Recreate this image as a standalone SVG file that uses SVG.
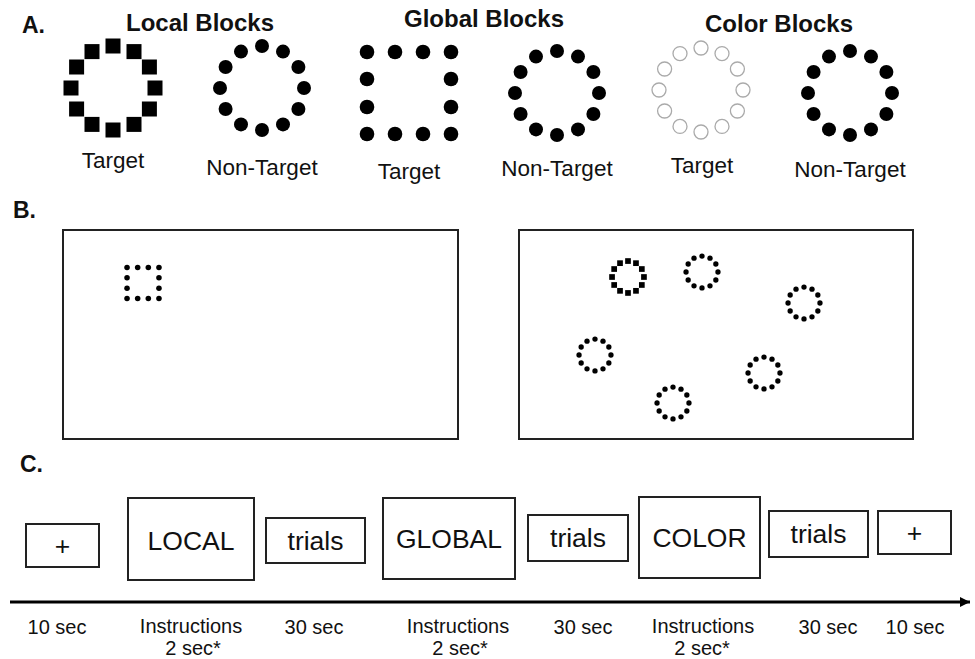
<svg xmlns="http://www.w3.org/2000/svg" xmlns:xlink="http://www.w3.org/1999/xlink" width="975" height="659" viewBox="0 0 975 659">
<style>
text{font-family:"Liberation Sans",Arial,sans-serif;fill:#111}
.lbl{font-size:23px;font-weight:bold}
.hd{font-size:24px;font-weight:bold;text-anchor:middle}
.cap{font-size:22.5px;text-anchor:middle}
.bx{fill:#fff;stroke:#222;stroke-width:2}
.bt{font-size:26.5px;text-anchor:middle}
.tl{font-size:20px;text-anchor:middle}
.dot{fill:#000}
.open{fill:none;stroke:#aaa;stroke-width:1.3}
</style>
<defs>
<g id="ringDots" class="dot">
<circle cx="42" cy="0" r="7"/><circle cx="36.4" cy="-21" r="7"/><circle cx="21" cy="-36.4" r="7"/><circle cx="0" cy="-42" r="7"/>
<circle cx="-21" cy="-36.4" r="7"/><circle cx="-36.4" cy="-21" r="7"/><circle cx="-42" cy="0" r="7"/><circle cx="-36.4" cy="21" r="7"/>
<circle cx="-21" cy="36.4" r="7"/><circle cx="0" cy="42" r="7"/><circle cx="21" cy="36.4" r="7"/><circle cx="36.4" cy="21" r="7"/>
</g>
<g id="ringSquares" class="dot">
<rect x="34.5" y="-7.5" width="15" height="15"/><rect x="28.9" y="-28.5" width="15" height="15"/><rect x="13.5" y="-43.9" width="15" height="15"/><rect x="-7.5" y="-49.5" width="15" height="15"/>
<rect x="-28.5" y="-43.9" width="15" height="15"/><rect x="-43.9" y="-28.5" width="15" height="15"/><rect x="-49.5" y="-7.5" width="15" height="15"/><rect x="-43.9" y="13.5" width="15" height="15"/>
<rect x="-28.5" y="28.9" width="15" height="15"/><rect x="-7.5" y="34.5" width="15" height="15"/><rect x="13.5" y="28.9" width="15" height="15"/><rect x="28.9" y="13.5" width="15" height="15"/>
</g>
<g id="ringOpen" class="open">
<circle cx="42" cy="0" r="7"/><circle cx="36.4" cy="-21" r="7"/><circle cx="21" cy="-36.4" r="7"/><circle cx="0" cy="-42" r="7"/>
<circle cx="-21" cy="-36.4" r="7"/><circle cx="-36.4" cy="-21" r="7"/><circle cx="-42" cy="0" r="7"/><circle cx="-36.4" cy="21" r="7"/>
<circle cx="-21" cy="36.4" r="7"/><circle cx="0" cy="42" r="7"/><circle cx="21" cy="36.4" r="7"/><circle cx="36.4" cy="21" r="7"/>
</g>
<g id="gridDots" class="dot">
<circle cx="-42" cy="-41" r="7.3"/><circle cx="-14" cy="-41" r="7.3"/><circle cx="14" cy="-41" r="7.3"/><circle cx="42" cy="-41" r="7.3"/>
<circle cx="-42" cy="-14" r="7.3"/><circle cx="42" cy="-14" r="7.3"/>
<circle cx="-42" cy="14" r="7.3"/><circle cx="42" cy="14" r="7.3"/>
<circle cx="-42" cy="41" r="7.3"/><circle cx="-14" cy="41" r="7.3"/><circle cx="14" cy="41" r="7.3"/><circle cx="42" cy="41" r="7.3"/>
</g>
<marker id="arr" viewBox="0 0 10 10" refX="10" refY="5" markerWidth="10" markerHeight="10" markerUnits="userSpaceOnUse" orient="auto">
<path d="M0,0 L10,5 L0,10 Z" fill="#000"/>
</marker>
</defs>

<!-- Panel A -->
<text class="lbl" x="22" y="33">A.</text>
<text class="hd" x="200" y="31">Local Blocks</text>
<text class="hd" x="484" y="27">Global Blocks</text>
<text class="hd" x="779" y="32">Color Blocks</text>

<g id="local-target">
<use xlink:href="#ringSquares" transform="translate(113,88)"/>
<text class="cap" x="113" y="168">Target</text>
</g>
<g id="local-nontarget">
<use xlink:href="#ringDots" transform="translate(262,88)"/>
<text class="cap" x="262" y="175">Non-Target</text>
</g>
<g id="global-target">
<use xlink:href="#gridDots" transform="translate(409,93)"/>
<text class="cap" x="409" y="179">Target</text>
</g>
<g id="global-nontarget">
<use xlink:href="#ringDots" transform="translate(557,93)"/>
<text class="cap" x="557" y="176">Non-Target</text>
</g>
<g id="color-target">
<use xlink:href="#ringOpen" transform="translate(701,90)"/>
<text class="cap" x="702" y="173">Target</text>
</g>
<g id="color-nontarget">
<use xlink:href="#ringDots" transform="translate(850,93)"/>
<text class="cap" x="850" y="177">Non-Target</text>
</g>

<!-- Panel B -->
<text class="lbl" x="13" y="218">B.</text>
<g id="screen-1">
<rect class="bx" x="63" y="230" width="395" height="209"/>
<use xlink:href="#gridDots" transform="translate(143,283) scale(0.38)"/>
</g>
<g id="screen-2">
<rect class="bx" x="519" y="230" width="394" height="209"/>
<use xlink:href="#ringSquares" transform="translate(628,277) scale(0.38)"/>
<use xlink:href="#ringDots" transform="translate(702,272) scale(0.38)"/>
<use xlink:href="#ringDots" transform="translate(804,303) scale(0.38)"/>
<use xlink:href="#ringDots" transform="translate(595,355) scale(0.38)"/>
<use xlink:href="#ringDots" transform="translate(764,373) scale(0.38)"/>
<use xlink:href="#ringDots" transform="translate(673,403) scale(0.38)"/>
</g>

<!-- Panel C -->
<text class="lbl" x="20" y="472">C.</text>
<g id="fix-1">
<rect class="bx" x="26" y="524" width="73" height="43"/>
<text class="bt" x="62.5" y="555">+</text>
</g>
<g id="instr-local">
<rect class="bx" x="128" y="498" width="126" height="82"/>
<text class="bt" x="191" y="550">LOCAL</text>
</g>
<g id="trials-1">
<rect class="bx" x="266" y="518" width="99" height="45"/>
<text class="bt" x="315.5" y="550">trials</text>
</g>
<g id="instr-global">
<rect class="bx" x="383" y="498" width="132" height="81"/>
<text class="bt" x="449" y="548">GLOBAL</text>
</g>
<g id="trials-2">
<rect class="bx" x="528" y="515" width="100" height="46"/>
<text class="bt" x="578" y="547">trials</text>
</g>
<g id="instr-color">
<rect class="bx" x="639" y="497" width="121" height="81"/>
<text class="bt" x="699.5" y="547">COLOR</text>
</g>
<g id="trials-3">
<rect class="bx" x="769" y="511" width="99" height="46"/>
<text class="bt" x="818.5" y="543">trials</text>
</g>
<g id="fix-2">
<rect class="bx" x="878" y="511" width="73" height="43"/>
<text class="bt" x="914.5" y="542">+</text>
</g>

<g id="connectors">
<line x1="10" y1="602" x2="970" y2="602" stroke="#000" stroke-width="3" marker-end="url(#arr)"/>
</g>

<g id="timeline-labels">
<text class="tl" x="57" y="634">10 sec</text>
<text class="tl" x="191" y="633">Instructions</text>
<text class="tl" x="193" y="655">2 sec*</text>
<text class="tl" x="314" y="634">30 sec</text>
<text class="tl" x="458" y="633">Instructions</text>
<text class="tl" x="460" y="655">2 sec*</text>
<text class="tl" x="583" y="634">30 sec</text>
<text class="tl" x="703" y="633">Instructions</text>
<text class="tl" x="702" y="655">2 sec*</text>
<text class="tl" x="828" y="634">30 sec</text>
<text class="tl" x="915" y="634">10 sec</text>
</g>
</svg>
